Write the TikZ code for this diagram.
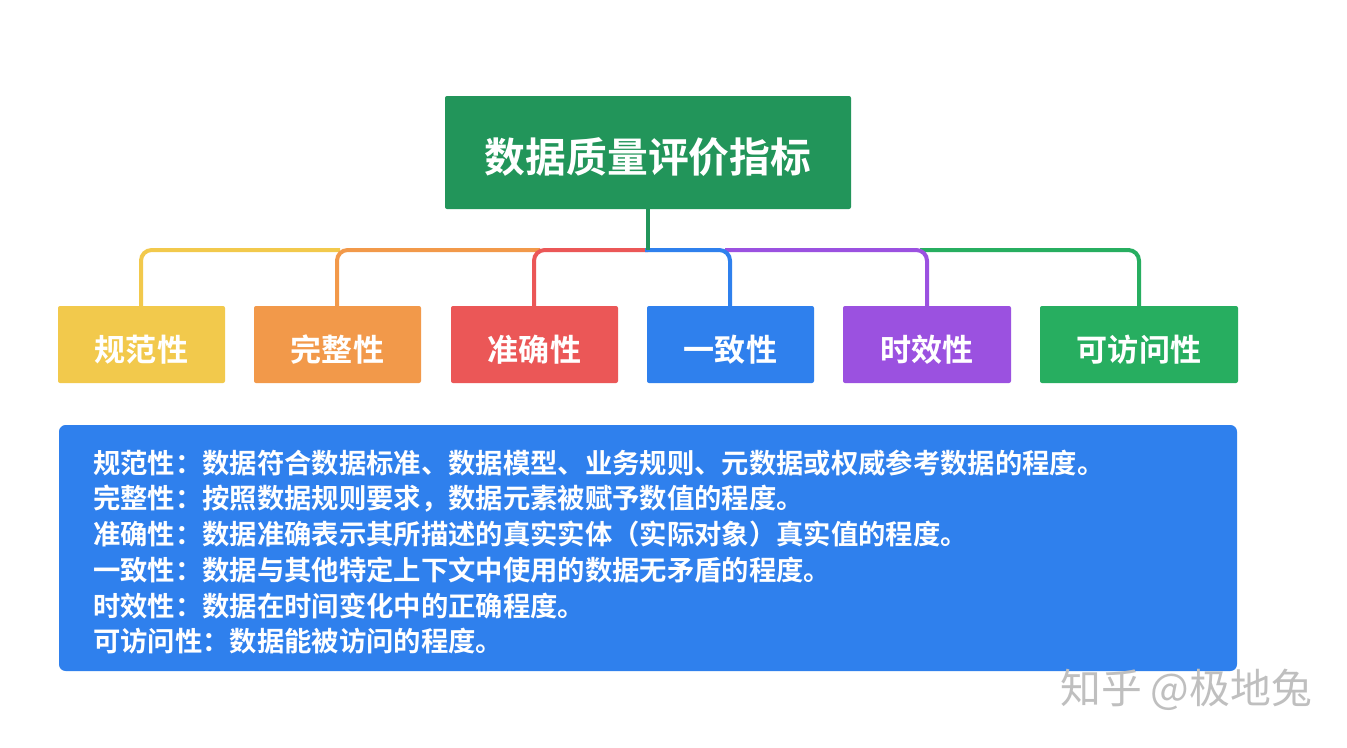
\documentclass[tikz,border=0pt]{standalone}
\usepackage{fontspec}
\newfontfamily\cjk{Noto Sans CJK SC}
\newfontfamily\cjkb{Noto Sans CJK SC Bold}
\begin{document}
\begin{tikzpicture}[x=0.75pt,y=-0.75pt]
\definecolor{cg}{HTML}{22955A}
\definecolor{cy}{HTML}{F2C94C}
\definecolor{co}{HTML}{F2994A}
\definecolor{cr}{HTML}{EB5757}
\definecolor{cb}{HTML}{2F80ED}
\definecolor{cp}{HTML}{9B51E0}
\definecolor{cgr}{HTML}{27AE60}
\tikzset{box/.style={fill=#1,draw=none,rounded corners=1.5pt,text=white,font=\cjkb\fontsize{23.3}{26}\selectfont,inner sep=0pt,text height=25pt,text depth=0pt},
 conn/.style={draw=#1,line width=3pt,rounded corners=8pt}}
\useasboundingbox (0,0) rectangle (1347,747);
\fill[white] (0,0) rectangle (1347,747);
\coordinate (hub) at (648,250);
% connectors
\draw[conn=cy] (141,306) -- (141,250) -- (340,250);
\draw[conn=co] (337,306) -- (337,250) -- (540,250);
\draw[conn=cr] (534,306) -- (534,250) -- (648,250);
\draw[conn=cgr] (1139,306) -- (1139,250) -- (920,250);
\draw[conn=cp] (927,306) -- (927,250) -- (725,250);
\draw[conn=cb] (730,306) -- (730,250) -- (645,250);
\draw[conn=cg] (648,209) -- (648,250);
\node[box=cg,minimum width=406*0.75pt,minimum height=113*0.75pt,font=\cjkb\fontsize{30.6}{34}\selectfont,text height=30pt] (top) at (648,152.5) {数据质量评价指标};
\node[box=cy,minimum width=167*0.75pt,minimum height=77*0.75pt] (a) at (141.5,344.5) {规范性};
\node[box=co,minimum width=167*0.75pt,minimum height=77*0.75pt] (b) at (337.5,344.5) {完整性};
\node[box=cr,minimum width=167*0.75pt,minimum height=77*0.75pt] (c) at (534.5,344.5) {准确性};
\node[box=cb,minimum width=167*0.75pt,minimum height=77*0.75pt] (d) at (730.5,344.5) {一致性};
\node[box=cp,minimum width=168*0.75pt,minimum height=77*0.75pt] (e) at (927,344.5) {时效性};
\node[box=cgr,minimum width=198*0.75pt,minimum height=77*0.75pt] (f) at (1139,344.5) {可访问性};
\fill[cb,rounded corners=5pt] (59,425) rectangle (1237,671);
\begin{scope}[every node/.style={anchor=west,text=white,font=\cjkb\fontsize{20.5}{24}\selectfont,inner sep=0pt}]
\node (t1) at (93,463) {规范性：数据符合数据标准、数据模型、业务规则、元数据或权威参考数据的程度。};
\node (t2) at (93,498.5) {完整性：按照数据规则要求，数据元素被赋予数值的程度。};
\node (t3) at (93,534.5) {准确性：数据准确表示其所描述的真实实体（实际对象）真实值的程度。};
\node (t4) at (93,570) {一致性：数据与其他特定上下文中使用的数据无矛盾的程度。};
\node (t5) at (93,606) {时效性：数据在时间变化中的正确程度。};
\node (t6) at (93,641) {可访问性：数据能被访问的程度。};
\end{scope}
\node[anchor=west,text=black!25,font=\cjk\fontsize{30.6}{34}\selectfont,inner sep=0pt] (wm) at (1060,690) {知乎 @极地兔};
\end{tikzpicture}
\end{document}
